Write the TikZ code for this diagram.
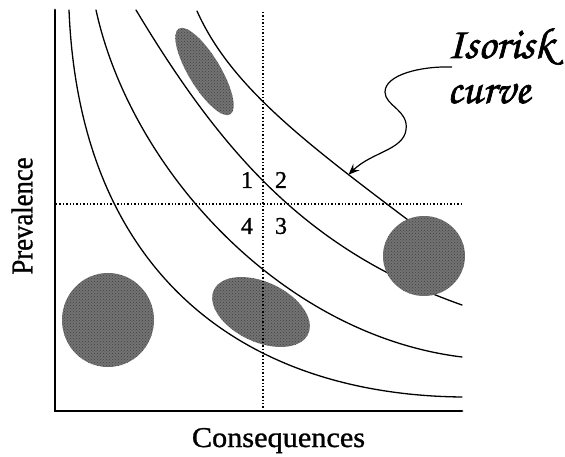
\documentclass[tikz,border=0pt]{standalone}
\usepackage{fontspec}
\setmainfont{Liberation Serif}
\newfontfamily\labelfont[FakeBold=1]{Liberation Serif}
\newfontfamily\chorusfont[FakeBold=1.5]{texgyrechorus-mediumitalic.otf}
\usetikzlibrary{arrows.meta,patterns}
\tikzset{
  isocurve/.style={line width=1.3pt, line cap=round},
  axisline/.style={line width=2.8pt, line cap=round},
  dotline/.style={line width=1.4pt, dash pattern=on 1.4pt off 2pt},
  blob/.style={fill=black!55},
  blobtex/.style={pattern=crosshatch dots, pattern color=black!75},
  quadlabel/.style={font=\labelfont\fontsize{24}{24}\selectfont, inner sep=0pt},
  axislabel/.style={font=\labelfont\fontsize{28.7}{29}\selectfont, inner sep=0pt},
  scriptlabel/.style={font=\chorusfont\fontsize{44}{44}\selectfont, inner sep=0pt, anchor=base west},
}
\begin{document}
\begin{tikzpicture}[x=1pt,y=-1pt]
\useasboundingbox (0,0) rectangle (565,457);
% isorisk curves
\draw[isocurve] (69,10) .. controls (80,280) and (250,395) .. (462,397);
\draw[isocurve] (96,10) .. controls (131,170) and (282,335) .. (462,357);
\draw[isocurve] (136,10) .. controls (226,160) and (312,252) .. (462,305);
\draw[isocurve] (197,11) .. controls (230,85) and (302,140) .. coordinate[pos=0.8] (tip) (408,220) -- (452,254);
% blobs
\foreach \s in {blob, blobtex}{
\fill[\s, rotate around={-59:(204.5,71.5)}] (204.5,71.5) ellipse [x radius=50pt, y radius=16pt];
\fill[\s, rotate around={-25:(261,312)}] (261,312) ellipse [x radius=52pt, y radius=30pt];
\fill[\s] (108,320) ellipse [x radius=46pt, y radius=47pt];
\fill[\s] (424,256) ellipse [x radius=41pt, y radius=40pt];
}
% dotted quadrant lines
\coordinate (vtop) at (263,12);
\coordinate (vbot) at (263,410);
\coordinate (hl) at (56,204);
\coordinate (hr) at (461,204);
\draw[dotline] (vtop) -- (vbot);
\draw[dotline] (hl) -- (hr);
% axes
\coordinate (ytop) at (55,10);
\coordinate (xend) at (462,411);
\draw[axisline] (ytop) |- (xend);
% quadrant numbers
\node[quadlabel] (q1) at (247,180) {1};
\node[quadlabel] (q2) at (281,180) {2};
\node[quadlabel] (q4) at (247,226) {4};
\node[quadlabel] (q3) at (281,226) {3};
% axis labels
\node[axislabel, anchor=base] (xlab) at (278.5,447) {\scalebox{1.055}[1]{Consequences}};
\node[axislabel, rotate=90] (ylab) at (22,216) {\scalebox{0.93}[1.05]{Prevalence}};
% script label
\node[scriptlabel] (iso1) at (447,58) {Isorisk};
\node[scriptlabel] (iso2) at (447,103) {curve};
\coordinate (sq) at (452,67);
\draw[line width=1.2pt, -{Stealth[length=11pt, width=9pt, inset=4pt]}] (sq) .. controls (420,66) and (385,75) .. (385,92) .. controls (385,106) and (409,110) .. (406,130) .. controls (403,150) and (372,152) .. (tip);
\end{tikzpicture}
\end{document}
